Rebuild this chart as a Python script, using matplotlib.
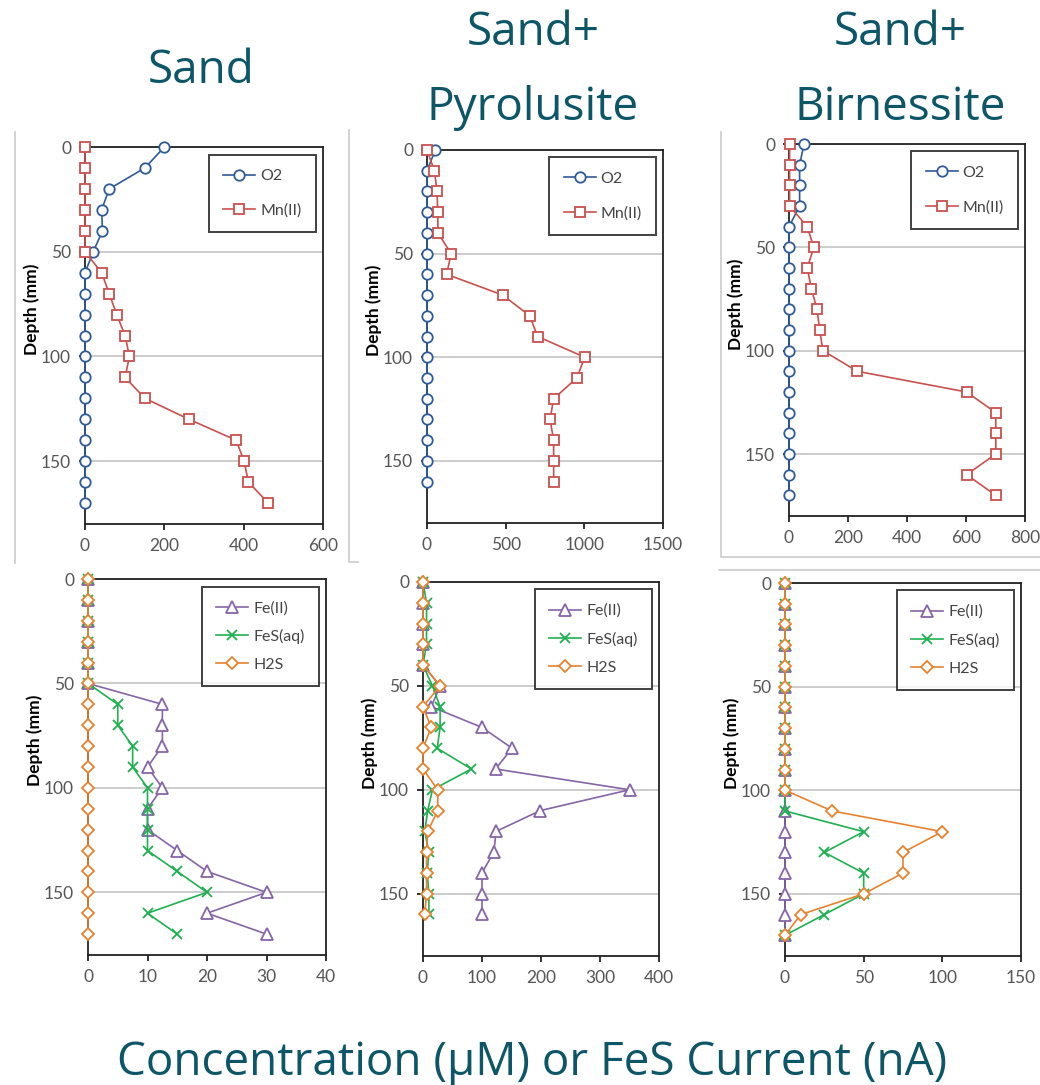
import matplotlib
matplotlib.use("Agg")
import matplotlib.pyplot as plt
from matplotlib.lines import Line2D

plt.rcParams['font.family'] = ['Lato', 'DejaVu Sans']

W, H = 1040, 1085

# ---- data ----
depth_18 = [0, 10, 20, 30, 40, 50, 60, 70, 80, 90, 100, 110, 120, 130, 140, 150, 160, 170]
depth_17 = depth_18[:-1]

# top row: O2 and Mn(II)
sand_o2 = [200, 151, 61, 42, 44, 21, 0, 0, 0, 0, 0, 0, 0, 0, 0, 0, 0, 0]
sand_mn = [0, 0, 0, 0, 0, 0, 42, 61, 80, 101, 112, 101, 151, 262, 381, 401, 412, 462]
pyro_o2 = [53, 0, 0, 0, 0, 0, 0, 0, 0, 0, 0, 0, 0, 0, 0, 0, 0]
pyro_mn = [0, 47, 64, 68, 70, 153, 125, 481, 653, 703, 1002, 953, 805, 782, 805, 805, 805]
birn_o2 = [51, 36, 36, 36, 0, 0, 0, 0, 0, 0, 0, 0, 0, 0, 0, 0, 0, 0]
birn_mn = [2, 2, 2, 2, 62, 84, 62, 76, 95, 104, 115, 232, 602, 701, 701, 701, 602, 701]

# bottom row: Fe(II), FeS(aq), H2S
sand_fe = [0, 0, 0, 0, 0, 0, 12.5, 12.5, 12.5, 10, 12.5, 10, 10, 15, 20, 30, 20, 30]
sand_fes = [0, 0, 0, 0, 0, 0, 5, 5, 7.5, 7.5, 10, 10, 10, 10, 15, 20, 10, 15]
sand_h2s = [0] * 18
pyro_fe = [0, 0, 0, 0, 0, 29, 14, 100, 151, 123, 350, 199, 124, 120, 100, 100, 100]
pyro_fes = [0, 6, 6, 6, 0, 16, 29, 29, 24, 82, 16, 8, 3, 10, 7, 10, 10]
pyro_h2s = [0, 0, 0, 0, 0, 29, 0, 14, 0, 0, 25, 25, 8, 6, 6, 6, 3]
birn_fe = [0] * 18
birn_fes = [0, 0, 0, 0, 0, 0, 0, 0, 0, 0, 0, 0, 50, 25, 50, 50, 25, 0]
birn_h2s = [0, 0, 0, 0, 0, 0, 0, 0, 0, 0, 0, 30, 100, 75, 75, 50, 10, 0]

x_max_top = [600, 1500, 800]
x_step_top = [200, 500, 200]
x_max_bot = [40, 400, 150]
x_step_bot = [10, 100, 50]

titles = [["Sand"], ["Sand+", "Pyrolusite"], ["Sand+", "Birnessite"]]
xlabel = "Concentration (\u03bcM) or FeS Current (nA)"

C_O2 = '#2e5b98'
C_MN = '#c9504d'
C_FE = '#8565a8'
C_FES = '#1fb050'
C_H2S = '#e8822e'
TEAL = '#0c5667'

fig = plt.figure(figsize=(W / 100, H / 100), dpi=100)


def add_ax(x0, y0, x1, y1):
    return fig.add_axes([x0 / W, 1 - y1 / H, (x1 - x0) / W, (y1 - y0) / H])


def style(ax, xmax, xstep):
    ax.set_xlim(0, xmax)
    ax.set_ylim(180, 0)
    ax.set_xticks(range(0, xmax + 1, xstep))
    ax.set_yticks([0, 50, 100, 150])
    ax.yaxis.grid(True, color='#c4c4c4', lw=1.2)
    ax.set_axisbelow(True)
    for s in ax.spines.values():
        s.set_color('#222222')
        s.set_linewidth(1.3)
    ax.tick_params(direction='out', length=4, width=1.3, color='#222222',
                   labelsize=12.5, labelcolor='#555555', pad=6)
    ax.set_ylabel("Depth (mm)", fontsize=12.5, fontweight='bold')
    ax.yaxis.set_label_coords(-0.19, 0.57)


def legend(ax, spacing):
    lg = ax.legend(loc='upper right', bbox_to_anchor=(0.97, 0.98), fontsize=11.5,
                   frameon=True, fancybox=False, edgecolor='#111111',
                   handlelength=2.0, handletextpad=0.3, labelspacing=spacing,
                   borderpad=0.9, borderaxespad=0)
    lg.get_frame().set_linewidth(1.4)
    for t in lg.get_texts():
        t.set_color('#444444')


top_boxes = [(85, 147, 323, 524), (427, 150, 663, 523), (789, 144, 1025, 516)]
bot_boxes = [(88, 579, 326, 955), (423, 582, 659, 956), (785, 583, 1021, 956)]

top_data = [(depth_18, sand_o2, sand_mn), (depth_17, pyro_o2, pyro_mn), (depth_18, birn_o2, birn_mn)]
bot_data = [(depth_18, sand_fe, sand_fes, sand_h2s), (depth_17, pyro_fe, pyro_fes, pyro_h2s),
            (depth_18, birn_fe, birn_fes, birn_h2s)]

for i in range(3):
    ax = add_ax(*top_boxes[i])
    d, o2, mn = top_data[i]
    ax.plot(o2, d, color=C_O2, lw=1.2, marker='o', ms=7.5, mfc='white', mec=C_O2, mew=1.3,
            label='O2', clip_on=False, zorder=3)
    ax.plot(mn, d, color=C_MN, lw=1.2, marker='s', ms=7.5, mfc='white', mec=C_MN, mew=1.3,
            label='Mn(II)', clip_on=False, zorder=4)
    style(ax, x_max_top[i], x_step_top[i])
    legend(ax, 1.25)

    ax = add_ax(*bot_boxes[i])
    d, fe, fes, h2s = bot_data[i]
    ax.plot(fe, d, color=C_FE, lw=1.2, marker='^', ms=8, mfc='white', mec=C_FE, mew=1.3,
            label='Fe(II)', clip_on=False, zorder=3)
    ax.plot(fes, d, color=C_FES, lw=1.2, marker='x', ms=7, mec=C_FES, mew=1.3,
            label='FeS(aq)', clip_on=False, zorder=4)
    ax.plot(h2s, d, color=C_H2S, lw=1.2, marker='D', ms=6.5, mfc='white', mec=C_H2S, mew=1.3,
            label='H2S', clip_on=False, zorder=5)
    style(ax, x_max_bot[i], x_step_bot[i])
    legend(ax, 0.85)

# titles
title_x = [201, 533, 900]
for i, lines in enumerate(titles):
    if len(lines) == 1:
        fig.text(title_x[i] / W, 1 - 83 / H, lines[0], fontsize=33, color=TEAL,
                 family=['Open Sans', 'DejaVu Sans'], ha='center', va='baseline')
    else:
        fig.text(title_x[i] / W, 1 - 45 / H, lines[0], fontsize=33, color=TEAL,
                 family=['Open Sans', 'DejaVu Sans'], ha='center', va='baseline')
        fig.text(title_x[i] / W, 1 - 120 / H, lines[1], fontsize=33, color=TEAL,
                 family=['Open Sans', 'DejaVu Sans'], ha='center', va='baseline')

fig.text(532 / W, 1 - 1075 / H, xlabel, fontsize=33, color=TEAL,
         family=['Open Sans', 'DejaVu Sans'], ha='center', va='baseline')

# faint frames of the pasted panels
frame = '#cccccc'
for xs, ys in [([15, 15], [132, 563]),
               ([349, 349, 358], [130, 562, 562]),
               ([721, 721, 1040], [132, 557, 557]),
               ([719, 1040], [570, 570])]:
    fig.add_artist(Line2D([x / W for x in xs], [1 - y / H for y in ys],
                          color=frame, lw=1.2, transform=fig.transFigure))

fig.savefig("out.png", dpi=100)
